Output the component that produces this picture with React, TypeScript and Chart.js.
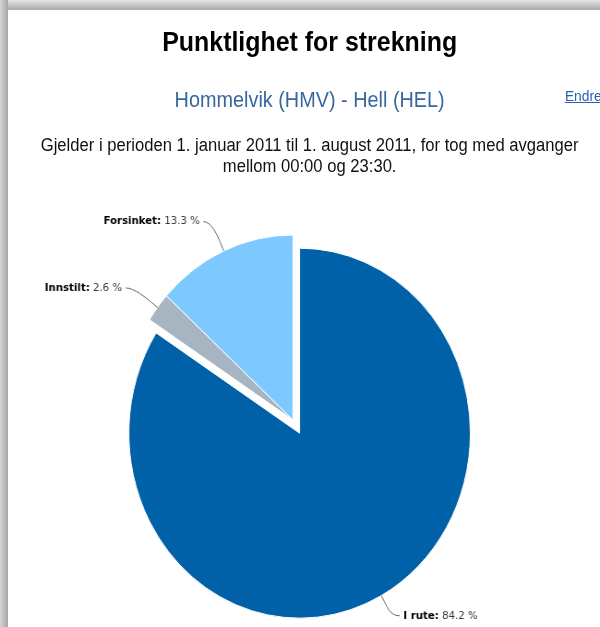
import React, { useEffect, useRef } from 'react';
import { Chart, registerables } from 'chart.js';

Chart.register(...registerables);

// ---- data ----
const categories = ['I rute', 'Innstilt', 'Forsinket'];
const values = [84.2, 2.6, 13.3];
const sliced = [true, false, false];
const valueSuffix = ' %';

// ---- style / layout ----
const COLORS = ['#0061a9', '#a6b5c1', '#7dc9ff'];
const SQUISH = 0.923; // the reference is horizontally compressed
const WRAP_W = 671;
const CANVAS_TOP = 190;
const CANVAS_W = 650;
const CANVAS_H = 437;
const CENTER_X = 317.4;
const CENTER_Y = 230;
const RADIUS = 185;
const SLICE_OFFSET = 15;
const LABEL_DIST = 32;
const STUB = 9;
const GAP = 4;
const CONNECT_OFF = 8;
const LABEL_FONT = '"DejaVu Sans", Verdana, sans-serif';

const piePlugin = {
  id: 'slicedPieWithLabels',
  beforeDatasetsDraw(chart: any) {
    const ctx = chart.ctx as CanvasRenderingContext2D;
    const meta = chart.getDatasetMeta(0);
    meta.data.forEach((arc: any, i: number) => {
      const mid = (arc.startAngle + arc.endAngle) / 2;
      const s = sliced[i] ? SLICE_OFFSET : 0;
      ctx.save();
      ctx.translate(Math.cos(mid) * s, Math.sin(mid) * s);
      arc.draw(ctx);
      ctx.restore();
    });
    meta.data.forEach((arc: any, i: number) => {
      const mid = (arc.startAngle + arc.endAngle) / 2;
      const s = sliced[i] ? SLICE_OFFSET : 0;
      const r = arc.outerRadius;
      const dx = Math.cos(mid);
      const dy = Math.sin(mid);
      const ox = arc.x + dx * s;
      const oy = arc.y + dy * s;
      const B = [ox + dx * r, oy + dy * r];
      const S = [ox + dx * (r + CONNECT_OFF), oy + dy * (r + CONNECT_OFF)];
      const ld = r + LABEL_DIST - 0.6 * s;
      const F = [ox + dx * ld, oy + dy * ld];
      const side = dx >= 0 ? 1 : -1;
      const P0 = [F[0] + side * STUB, F[1]];
      ctx.save();
      ctx.strokeStyle = '#666666';
      ctx.lineWidth = 1;
      ctx.beginPath();
      ctx.moveTo(P0[0], P0[1]);
      ctx.bezierCurveTo(F[0], F[1], 2 * S[0] - B[0], 2 * S[1] - B[1], S[0], S[1]);
      ctx.lineTo(B[0], B[1]);
      ctx.stroke();

      const name = categories[i] + ':';
      const val = ' ' + values[i] + valueSuffix;
      ctx.textBaseline = 'middle';
      ctx.textAlign = 'left';
      ctx.font = 'bold 11px ' + LABEL_FONT;
      const wb = ctx.measureText(name).width;
      ctx.font = '11px ' + LABEL_FONT;
      const wn = ctx.measureText(val).width;
      const startX = side > 0 ? P0[0] + GAP : P0[0] - GAP - wb - wn;
      ctx.font = 'bold 11px ' + LABEL_FONT;
      ctx.fillStyle = '#000000';
      ctx.fillText(name, startX, F[1]);
      ctx.font = '11px ' + LABEL_FONT;
      ctx.fillStyle = '#3a3a3a';
      ctx.fillText(val, startX + wb, F[1]);
      ctx.restore();
    });
    return false;
  },
};

function PieChart() {
  const ref = useRef<HTMLCanvasElement | null>(null);
  useEffect(() => {
    if (!ref.current) return;
    const size = 2 * RADIUS + 1;
    const left = CENTER_X - size / 2;
    const top = CENTER_Y - size / 2;
    const chart = new Chart(ref.current, {
      type: 'pie',
      data: {
        labels: categories,
        datasets: [
          {
            data: values,
            backgroundColor: COLORS,
            borderColor: '#ffffff',
            borderWidth: 1,
            hoverBorderWidth: 1,
            offset: 0,
            hoverOffset: 0,
          },
        ],
      },
      options: {
        responsive: false,
        animation: false,
        events: [],
        layout: {
          padding: {
            left,
            top,
            right: CANVAS_W - left - size,
            bottom: CANVAS_H - top - size,
          },
        },
        plugins: {
          legend: { display: false },
          tooltip: { enabled: false },
        },
      },
      plugins: [piePlugin],
    } as any);
    return () => chart.destroy();
  }, []);
  return (
    <canvas
      ref={ref}
      width={CANVAS_W}
      height={CANVAS_H}
      style={{ position: 'absolute', left: 0, top: CANVAS_TOP }}
    />
  );
}

export default function App() {
  const centered: React.CSSProperties = {
    position: 'absolute',
    left: 0,
    width: WRAP_W,
    textAlign: 'center',
    whiteSpace: 'nowrap',
  };
  return (
    <div
      style={{
        position: 'fixed',
        left: 0,
        top: 0,
        width: 600,
        height: 627,
        overflow: 'hidden',
        background: '#ffffff',
        fontFamily: '"Liberation Sans", Arial, sans-serif',
      }}
    >
      <div
        style={{
          position: 'absolute',
          left: 0,
          top: 0,
          width: WRAP_W,
          height: 627,
          transform: `scaleX(${SQUISH})`,
          transformOrigin: '0 0',
        }}
      >
        <div style={{ ...centered, top: 27, fontSize: 27, lineHeight: '31px', fontWeight: 'bold', color: '#000' }}>
          Punktlighet for strekning
        </div>
        <div style={{ ...centered, top: 87.5, fontSize: 21.5, lineHeight: '25px', color: '#36689f' }}>
          Hommelvik (HMV) - Hell (HEL)
        </div>
        <div
          style={{
            position: 'absolute',
            left: 612,
            top: 87,
            fontSize: 15,
            lineHeight: '17px',
            color: '#2a5db0',
            textDecoration: 'underline',
            whiteSpace: 'nowrap',
          }}
        >
          Endre
        </div>
        <div style={{ ...centered, top: 134.5, fontSize: 18, lineHeight: '21px', color: '#111' }}>
          Gjelder i perioden 1. januar 2011 til 1. august 2011, for tog med avganger
          <br />
          mellom 00:00 og 23:30.
        </div>
        <PieChart />
      </div>
      <div
        style={{
          position: 'absolute',
          left: 0,
          top: 0,
          width: 600,
          height: 10,
          background: 'linear-gradient(to bottom, #e6e6e6, #a9a9a9)',
        }}
      />
      <div
        style={{
          position: 'absolute',
          left: 0,
          top: 0,
          width: 8,
          height: 627,
          background: 'linear-gradient(to right, #d6d6d6, #a6a6a6)',
        }}
      />
    </div>
  );
}
